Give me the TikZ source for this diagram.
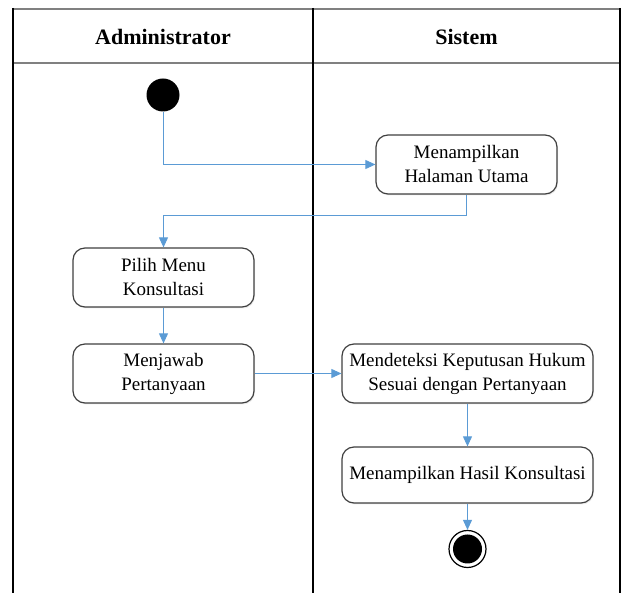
\documentclass[tikz,border=0pt]{standalone}
\usepackage{fontspec}
\setmainfont{Liberation Serif}
\usetikzlibrary{arrows.meta,shadows}
\definecolor{flowblue}{RGB}{91,155,213}
\definecolor{boxgrey}{RGB}{64,64,64}
\begin{document}
\begin{tikzpicture}[x=1pt,y=-1pt]
  \tikzstyle{activity}=[draw=boxgrey,line width=1.2pt,rounded corners=12pt,fill=white,
    align=center,minimum height=59pt,font=\fontsize{19}{24}\selectfont,
    drop shadow={shadow xshift=1pt,shadow yshift=-1.5pt,opacity=0.15}]
  \tikzstyle{lane}=[font=\fontsize{22}{26}\selectfont\bfseries]
  \tikzstyle{line} = [draw=flowblue, line width=0.9pt, -{Triangle[length=10pt,width=9pt]}]
  \useasboundingbox (0,0) rectangle (622,593);
  % swimlanes
  \draw[line width=2pt,gray] (13,9) -- (620,9);
  \draw[line width=2pt,gray] (13,63) -- (620,63);
  \draw[line width=2pt] (13,8) -- (13,593);
  \draw[line width=2pt] (313,8) -- (313,593);
  \draw[line width=2pt] (620,8) -- (620,593);
  \node[lane] (admin) at (163,37) {Administrator};
  \node[lane] (sistem) at (466.5,37) {Sistem};
  % activities
  \node[circle,fill=black,minimum size=33pt,inner sep=0pt] (start) at (163,95) {};
  \node[activity,minimum width=181pt] (halaman) at (466.5,164.5) {Menampilkan\\Halaman Utama};
  \node[activity,minimum width=181pt] (pilih) at (163.5,277.5) {Pilih Menu\\Konsultasi};
  \node[activity,minimum width=181pt] (jawab) at (163.5,373.5) {Menjawab\\Pertanyaan};
  \node[activity,minimum width=251pt] (deteksi) at (467.5,373.5) {Mendeteksi Keputusan Hukum\\Sesuai dengan Pertanyaan};
  \node[activity,minimum width=251pt,minimum height=56pt] (hasil) at (467.5,475) {Menampilkan Hasil Konsultasi};
  \node[circle,draw=black,line width=1.2pt,fill=white,minimum size=37pt,inner sep=0pt] (end) at (467.5,549) {};
  \node[circle,fill=black,minimum size=29pt,inner sep=0pt] (endcore) at (end.center) {};
  % flow
  \draw[line] (start) |- (halaman);
  \draw[line] (halaman.south) -- ++(0,21) -| (pilih.north);
  \draw[line] (pilih) -- (jawab);
  \draw[line] (jawab) -- (deteksi);
  \draw[line] (deteksi) -- (hasil);
  \draw[line] (hasil) -- (end);
\end{tikzpicture}
\end{document}
